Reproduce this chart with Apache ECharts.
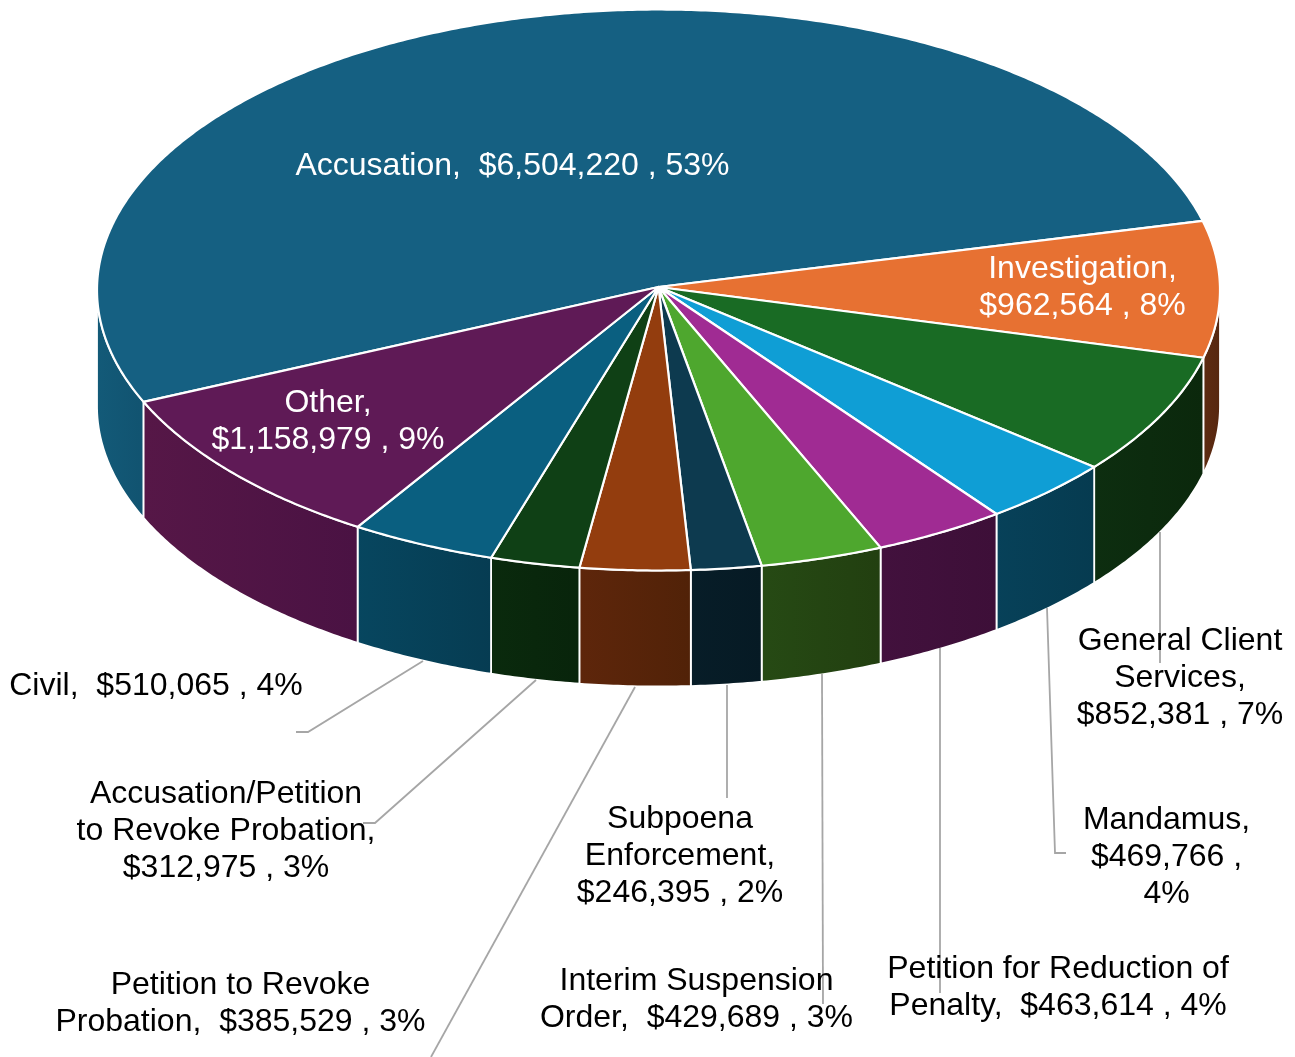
<!DOCTYPE html>
<html>
<head>
<meta charset="utf-8">
<title>Costs by case type</title>
<style>
  html, body { margin: 0; padding: 0; background: #fff; }
  #chart { width: 1295px; height: 1057px; }
</style>
<script src="https://cdn.jsdelivr.net/npm/echarts@6/dist/echarts.min.js"></script>
</head>
<body>
<div id="chart"></div>
<script>
// Slices, clockwise from the largest one.
const categories = [
  'Accusation', 'Investigation', 'General Client Services', 'Mandamus',
  'Petition for Reduction of Penalty', 'Interim Suspension Order', 'Subpoena Enforcement',
  'Petition to Revoke Probation', 'Accusation/Petition to Revoke Probation', 'Civil', 'Other'
];
const amounts = [6504220, 962564, 852381, 469766, 463614, 429689, 246395, 385529, 312975, 510065, 1158979];

// Label wording; {v} is the amount and {p} the share of the total.
const labelFormats = [
  'Accusation,  {v} , {p}',
  'Investigation,\n{v} , {p}',
  'General Client\nServices,\n{v} , {p}',
  'Mandamus,\n{v} ,\n{p}',
  'Petition for Reduction of\nPenalty,  {v} , {p}',
  'Interim Suspension\nOrder,  {v} , {p}',
  'Subpoena\nEnforcement,\n{v} , {p}',
  'Petition to Revoke\nProbation,  {v} , {p}',
  'Accusation/Petition\nto Revoke Probation,\n{v} , {p}',
  'Civil,  {v} , {p}',
  'Other,\n{v} , {p}'
];

const topColors = ['#156082', '#E77132', '#196B24', '#0F9ED5', '#A02B93', '#4EA72E',
                   '#0D3A4F', '#933D0E', '#0F4015', '#0A5F80', '#5F1A56'];
const wallColors = [
  ['#135A78', '#115370'], ['#5E2C12', '#56270F'], ['#0D2E10', '#0B280C'], ['#074159', '#063B50'],
  ['#42113D', '#3D0F38'], ['#264A14', '#223F10'], ['#071D28', '#061A24'], ['#5E260B', '#512208'],
  ['#0A2A0D', '#08240B'], ['#07465F', '#063C52'], ['#561747', '#4A1243']
];

// Label anchors and leader routes, indexed like categories.
const labelAnchors = [
  [512.5, 166], [1082.5, 287.5], [1180, 678], [1166.5, 857], [1058, 987.5], [696.5, 999.5],
  [680, 856], [240.5, 1003.5], [226, 831], [156, 686], [328, 421.5]
];
const labelColors = ['#fff', '#fff', '#000', '#000', '#000', '#000', '#000', '#000', '#000', '#000', '#fff'];
const leaderRoutes = [
  null, null,
  [[1160, 532], [1160, 663]],
  [[1047, 608], [1055, 853], [1066, 853]],
  [[940, 648], [940, 993]],
  [[822, 674], [823, 1004]],
  [[727, 685], [727, 798]],
  [[635, 687], [431, 1057]],
  [[536, 680], [375, 823], [363, 823]],
  [[423, 661], [308, 732], [296, 732]],
  null
];

// Ellipse that the round top is projected onto; skewDeg is the perspective pull
// of the slice boundaries towards skewAtDeg.
const pie = {
  cx: 658.5, cy: 290, rx: 561.5, ry: 280.5, apexY: 287, depth: 116,
  startDeg: 246.5, skewDeg: 0.6, skewAtDeg: 76
};

const total = amounts.reduce((a, b) => a + b, 0);
const spans = [];
amounts.reduce((from, amount) => {
  const to = from + amount / total * 360;
  spans.push([from, to]);
  return to;
}, pie.startDeg);

function projected(deg) {
  return deg - pie.skewDeg * (1 + Math.cos((deg - pie.skewAtDeg) * Math.PI / 180));
}
// Angle is measured clockwise from the top of the ellipse.
function rimPoint(deg, drop) {
  const a = deg * Math.PI / 180;
  return [pie.cx + pie.rx * Math.sin(a), pie.cy - pie.ry * Math.cos(a) + (drop || 0)];
}
function arcPoints(from, to, drop) {
  const steps = Math.max(2, Math.ceil(Math.abs(to - from) * 2));
  const pts = [];
  for (let i = 0; i <= steps; i++) pts.push(rimPoint(from + (to - from) * i / steps, drop));
  return pts;
}
// Portions of a slice's arc that lie on the front half of the ellipse.
function frontRanges(from, to) {
  const out = [];
  [[90, 270], [450, 630]].forEach(([lo, hi]) => {
    const a = Math.max(from, lo), b = Math.min(to, hi);
    if (b > a) out.push([a, b]);
  });
  return out;
}
function formatLabel(i) {
  const money = '$' + amounts[i].toLocaleString('en-US');
  const share = Math.round(amounts[i] / total * 100) + '%';
  return labelFormats[i].replace('{v}', money).replace('{p}', share);
}

const indexRows = categories.map((name, i) => ({ name, value: i }));

const chart = echarts.init(document.getElementById('chart'), null, { renderer: 'canvas' });
chart.setOption({
  animation: false,
  backgroundColor: '#ffffff',
  series: [
    {
      // Outer wall of the disc, only where it faces the viewer
      type: 'custom', coordinateSystem: 'none', silent: true, data: indexRows, z: 1,
      renderItem(params) {
        const i = params.dataIndex;
        const from = projected(spans[i][0]), to = projected(spans[i][1]);
        const children = frontRanges(from, to).map(([a, b]) => ({
          type: 'polygon',
          shape: { points: arcPoints(a, b, 0).concat(arcPoints(b, a, pie.depth)) },
          style: {
            fill: new echarts.graphic.LinearGradient(0, 0, 1, 0, [
              { offset: 0, color: wallColors[i][0] },
              { offset: 1, color: wallColors[i][1] }
            ]),
            stroke: '#ffffff', lineWidth: 1.8, lineJoin: 'round'
          }
        }));
        return { type: 'group', children };
      }
    },
    {
      // Top face of each slice
      type: 'custom', coordinateSystem: 'none', silent: true, data: indexRows, z: 2,
      renderItem(params) {
        const i = params.dataIndex;
        const from = projected(spans[i][0]), to = projected(spans[i][1]);
        return {
          type: 'polygon',
          shape: { points: [[pie.cx, pie.apexY]].concat(arcPoints(from, to, 0)) },
          style: { fill: topColors[i], stroke: '#ffffff', lineWidth: 2.2, lineJoin: 'round' }
        };
      }
    },
    {
      // Leader lines from the outside labels to their slices
      type: 'custom', coordinateSystem: 'none', silent: true, data: indexRows, z: 3,
      renderItem(params) {
        const route = leaderRoutes[params.dataIndex];
        if (!route) return { type: 'group', children: [] };
        return {
          type: 'polyline',
          shape: { points: route },
          style: { fill: null, stroke: '#A6A6A6', lineWidth: 1.8 }
        };
      }
    },
    {
      // Slice labels
      type: 'custom', coordinateSystem: 'none', silent: true, data: indexRows, z: 4,
      renderItem(params) {
        const i = params.dataIndex;
        return {
          type: 'text',
          style: {
            x: labelAnchors[i][0], y: labelAnchors[i][1],
            text: formatLabel(i),
            fill: labelColors[i],
            font: '32px "Liberation Sans", Arial, sans-serif',
            lineHeight: 37,
            align: 'center', verticalAlign: 'middle'
          }
        };
      }
    }
  ]
});
</script>
</body>
</html>
